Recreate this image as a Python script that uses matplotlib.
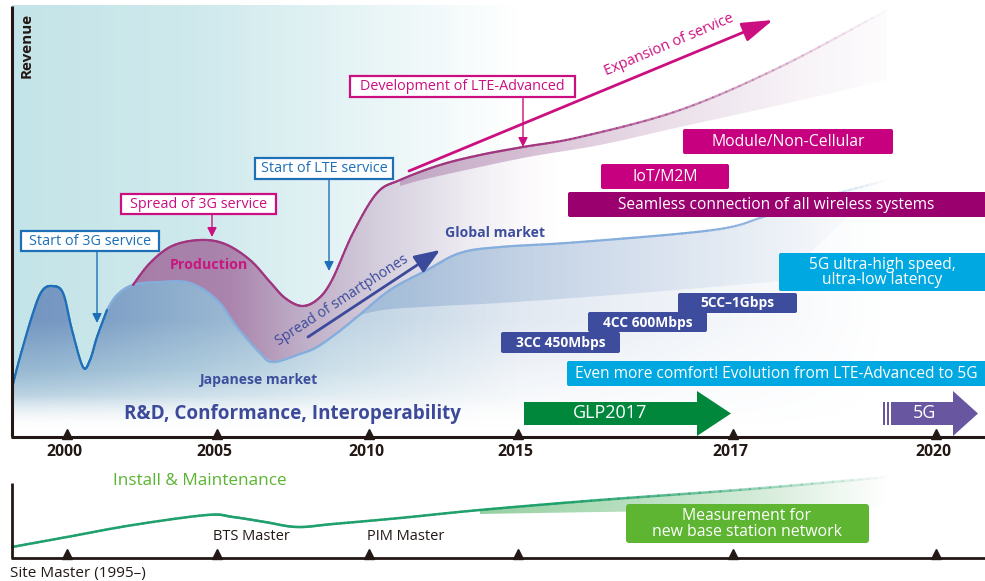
import numpy as np
import matplotlib
matplotlib.use("Agg")
import matplotlib.pyplot as plt
from matplotlib.path import Path
from matplotlib.patches import Rectangle, FancyBboxPatch, FancyArrowPatch, FancyArrow
from matplotlib.collections import LineCollection
from matplotlib.colors import to_rgb

plt.rcParams['font.family'] = ['Open Sans', 'DejaVu Sans']

# ---------------- data (schematic, pixel space) ----------------
year_labels = ["2000", "2005", "2010", "2015", "2017", "2020"]
year_pos = [67, 217, 369, 518, 733, 936]

# Japanese market curve (two humps, then plateau down to the minimum)
jp_x = [12, 20, 33, 42, 52, 63, 72, 83, 90, 97, 107, 117, 133, 160, 190, 217, 237, 260, 273]
jp_y = [388, 357, 313, 291, 286, 293, 330, 367, 360, 337, 310, 295, 285, 282, 283, 300, 327, 353, 362]
# global market line (continues from the Japanese minimum)
gl_x = [273, 300, 317, 337, 357, 390, 427, 460, 500, 580, 713, 763, 813, 887]
gl_y = [362, 354, 347, 333, 317, 290, 270, 253, 247, 242, 230, 217, 200, 180]
# lower edge of the global-market wedge
gw_x = [350, 383, 440, 500, 600, 700, 780]
gw_y = [318, 310, 306, 303, 296, 288, 281]
# production / revenue curve
pr_x = [133, 150, 172, 200, 225, 250, 270, 285, 302, 318, 332, 353, 377, 400, 440, 480, 523, 580, 680, 780, 887]
pr_y = [285, 263, 246, 240, 244, 260, 282, 298, 306, 299, 280, 233, 193, 180, 165, 155, 147, 137, 110, 67, 10]
# lower edge of the thin purple band under the production curve
band_x = [400, 430, 523, 600, 680, 780, 887]
band_y = [186, 178, 158, 145, 127, 105, 80]
# install & maintenance curve
im_x = [12, 67, 133, 207, 233, 265, 297, 333, 400, 480, 600, 750, 887]
im_y = [547, 537, 525, 515, 517, 522, 527, 524, 518, 510, 500, 489, 477]
im_lower_x = [480, 600, 750, 887]
im_lower_y = [514, 512, 510, 508]

# callout boxes: (text, x0, x1, y0, y1, colour, arrow_x, arrow_y_end)
callouts = [
    ("Start of 3G service", 21, 159, 231, 251, "#1d6fb8", 97, 323),
    ("Spread of 3G service", 121, 276, 194, 214, "#cc0f80", 212, 237),
    ("Start of LTE service", 255, 393, 158, 179, "#1d6fb8", 329, 271),
    ("Development of LTE-Advanced", 350, 575, 76, 97, "#cc0f80", 523, 147),
]
# filled label boxes: (text, x0, x1, y0, y1, colour, bold, fontsize)
boxes = [
    ("Module/Non-Cellular", 683, 893, 129, 154, "#c6007e", False, 11.3),
    ("IoT/M2M", 601, 729, 164, 189, "#c6007e", False, 11.3),
    ("Seamless connection of all wireless systems", 568, 990, 192, 217, "#9b006f", False, 11.2),
    ("5G ultra-high speed,\nultra-low latency", 779, 990, 253, 291, "#00a8e1", False, 11.2),
    ("5CC\u20131Gbps", 678, 797, 293, 313, "#3d4c9c", True, 9.9),
    ("4CC 600Mbps", 588, 707, 312, 332, "#3d4c9c", True, 9.9),
    ("3CC 450Mbps", 501, 620, 332, 353, "#3d4c9c", True, 9.9),
    ("Even more comfort! Evolution from LTE-Advanced to 5G", 567, 990, 361, 386, "#00a8e1", False, 11.2),
]
# block arrows: (text, x_start, x_tip, y_centre, colour)
block_arrows = [
    ("GLP2017", 524, 731, 413.5, "#00873c"),
    ("5G", 891, 978, 413.5, "#6856a0"),
]
# ----------------------------------------------------------------------------------------

W, H = 985, 581
fig = plt.figure(figsize=(W / 100, H / 100), dpi=100)
ax = fig.add_axes([0, 0, 1, 1])
ax.set_xlim(0, W)
ax.set_ylim(H, 0)
ax.axis('off')


def cr_vertices(xs, ys):
    P = np.column_stack([xs, ys]).astype(float)
    Pp = np.vstack([P[0], P, P[-1]])
    verts = [P[0]]
    for i in range(len(P) - 1):
        p0, p1, p2, p3 = Pp[i], Pp[i + 1], Pp[i + 2], Pp[i + 3]
        verts += [p1 + (p2 - p0) / 6.0, p2 - (p3 - p1) / 6.0, p2]
    return np.array(verts)


def make_path(segments, close=False):
    verts, codes = [], []
    for k, (xs, ys) in enumerate(segments):
        v = cr_vertices(xs, ys)
        verts.extend(v)
        codes.extend([Path.MOVETO if k == 0 else Path.LINETO] + [Path.CURVE4] * (len(v) - 1))
    if close:
        verts.append(verts[0])
        codes.append(Path.CLOSEPOLY)
    return Path(np.array(verts), codes)


def rev(xs, ys):
    return list(xs)[::-1], list(ys)[::-1]


def grad_fill(path, color, alpha_fn, extent, z):
    x0, x1, y0, y1 = extent
    nx, ny = int(x1 - x0), int(y1 - y0)
    X, Y = np.meshgrid(np.linspace(x0, x1, nx), np.linspace(y0, y1, ny))
    img = np.zeros((ny, nx, 4))
    img[..., :3] = to_rgb(color)
    img[..., 3] = np.clip(alpha_fn(X, Y), 0, 1)
    im = ax.imshow(img, extent=(x0, x1, y1, y0), origin='upper', aspect='auto',
                   zorder=z, interpolation='bilinear')
    if path is not None:
        im.set_clip_path(path, transform=ax.transData)
    return im


def faded_line(path, color, lw, xa, xb, z, a0=1.0):
    pts = []
    for bez, code in path.iter_bezier():
        pts.append(bez(np.linspace(0, 1, 16)))
    pts = np.vstack(pts)
    segs = np.stack([pts[:-1], pts[1:]], axis=1)
    xm = segs[:, :, 0].mean(axis=1)
    a = np.interp(xm, [xa, xb], [a0, 0.0])
    rgb = to_rgb(color)
    lc = LineCollection(segs, colors=[(*rgb, ai) for ai in a], linewidths=lw,
                        zorder=z, capstyle='round')
    ax.add_collection(lc)


def vfade(Y, ya, yb):
    return np.interp(Y, [ya, yb], [1.0, 0.0])


# background teal gradient
grad_fill(None, "#c3e4e8",
          lambda X, Y: np.interp(X, [12, 200, 360, 520], [1.0, 0.8, 0.4, 0.0]) * vfade(Y, 370, 428),
          (12, 985, 5, 437), 1)

# Japanese market fill
jp_path = make_path([(jp_x, jp_y), (gl_x, gl_y), ([887, 887], [180, 437]), ([887, 12], [437, 437])], close=True)
grad_fill(jp_path, "#7294c0",
          lambda X, Y: np.interp(X, [12, 60, 170, 250, 330, 500, 700, 887], [1, 0.95, 0.7, 0.55, 0.35, 0.22, 0.1, 0.0])
          * vfade(Y, 320, 430),
          (12, 887, 170, 437), 2)
# global market wedge
gw_path = make_path([(gl_x[4:], gl_y[4:]), rev(gw_x, gw_y)], close=True)
grad_fill(gw_path, "#7b9cc8",
          lambda X, Y: np.interp(X, [340, 420, 600, 887], [0.45, 0.4, 0.22, 0.0]),
          (330, 887, 170, 340), 2.5)

# production (purple) fill
pr_main = make_path([(pr_x[:18], pr_y[:18]), ([580, 580], [137, 242]), rev(gl_x[:10], gl_y[:10]),
                     rev(jp_x[12:], jp_y[12:])], close=True)
grad_fill(pr_main, "#a06a9c",
          lambda X, Y: np.interp(X, [133, 230, 300, 380, 470, 560], [0.85, 0.8, 0.5, 0.28, 0.1, 0.0]),
          (130, 585, 130, 370), 3)
# thin band along the upper curve
band_path = make_path([(pr_x[13:], pr_y[13:]), rev(band_x, band_y)], close=True)
grad_fill(band_path, "#a06a9c",
          lambda X, Y: np.interp(X, [400, 520, 680, 800, 887], [0.45, 0.42, 0.2, 0.08, 0.02]),
          (395, 890, 5, 190), 3)

# curve strokes
jp_line_a = make_path([(jp_x[:11], jp_y[:11])])
jp_line_b = make_path([(jp_x[10:] + gl_x[1:], jp_y[10:] + gl_y[1:])])
faded_line(jp_line_b, "#86aedc", 1.6, 700, 890, 4)
faded_line(jp_line_a, "#1f70b8", 1.6, 2000, 3000, 4.1)
pr_line = make_path([(pr_x, pr_y)])
faded_line(pr_line, "#a0367f", 1.6, 520, 890, 4, a0=1.0)

# bottom white fade (over curves)
grad_fill(None, "#ffffff", lambda X, Y: np.interp(Y, [395, 432], [0.0, 1.0]), (12, 985, 380, 436), 4.5)

# axes lines + ticks (top panel)
axis_col = "#231815"
ax.plot([11.5, 11.5], [6, 437], color=axis_col, lw=2.2, zorder=6, solid_capstyle='butt')
ax.plot([11, 985], [437, 437], color=axis_col, lw=2.2, zorder=6, solid_capstyle='butt')
ax.plot(year_pos, [433.5] * len(year_pos), ls='none', marker='^', ms=6.5, color=axis_col, zorder=6)
for lab, xp in zip(year_labels, year_pos):
    ax.text(xp - 3, 452, lab, ha='center', va='center', fontsize=11.3, fontweight='bold', color=axis_col, zorder=6)

ax.text(27, 45, "Revenue", rotation=90, ha='center', va='center', fontsize=11, fontweight='bold',
        color=axis_col, zorder=6)

# callouts
for text, x0, x1, y0, y1, col, axp, ay in callouts:
    ax.add_patch(Rectangle((x0, y0), x1 - x0, y1 - y0, facecolor='white', edgecolor=col, lw=1.6, zorder=7))
    ax.text((x0 + x1) / 2, (y0 + y1) / 2 + 0.5, text, ha='center', va='center', fontsize=10.4, color=col, zorder=8)
    ax.add_patch(FancyArrowPatch((axp, y1), (axp, ay), arrowstyle='-|>,head_length=0.7,head_width=0.35',
                                 mutation_scale=8, color=col, lw=1.0, shrinkA=0, shrinkB=0, zorder=7))

# big slanted arrows
ax.add_patch(FancyArrowPatch((409, 171), (773, 20), arrowstyle='-|>,head_length=1.9,head_width=0.6',
                             mutation_scale=10, color="#cc0f80", lw=2.0, shrinkA=0, shrinkB=0, zorder=7))
ax.text(669, 45, "Expansion of service", rotation=23, ha='center', va='center', fontsize=10.5,
        color="#cc0f80", zorder=7, rotation_mode='anchor')
ax.add_patch(FancyArrowPatch((308, 337), (440, 250), arrowstyle='-|>,head_length=1.55,head_width=0.6',
                             mutation_scale=10, color="#3b4a9b", lw=2.0, shrinkA=0, shrinkB=0, zorder=7))
ax.text(342, 300, "Spread of smartphones", rotation=33, ha='center', va='center', fontsize=10.2,
        color="#3b4a9b", zorder=7, rotation_mode='anchor')

# region labels
ax.text(209, 265, "Production", ha='center', va='center', fontsize=10.3, fontweight='bold', color="#c8177f", zorder=7)
ax.text(258, 380, "Japanese market", ha='center', va='center', fontsize=10.1, fontweight='bold', color="#3d4f9c", zorder=7)
ax.text(495, 233, "Global market", ha='center', va='center', fontsize=10.1, fontweight='bold', color="#3d4f9c", zorder=7)
ax.text(293, 414, "R&D, Conformance, Interoperability", ha='center', va='center', fontsize=13.6,
        fontweight='bold', color="#3d4a9a", zorder=7)

# filled boxes
for text, x0, x1, y0, y1, col, bold, fs in boxes:
    ax.add_patch(FancyBboxPatch((x0, y0), x1 - x0, y1 - y0, boxstyle="round,pad=0,rounding_size=2",
                                facecolor=col, edgecolor='none', zorder=8))
    cx = (x0 + min(x1, 985)) / 2
    ax.text(cx, (y0 + y1) / 2 + 0.5, text, ha='center', va='center', fontsize=fs, color='white',
            fontweight='bold' if bold else 'normal', zorder=9, linespacing=0.95)

# block arrows
for text, xs, xt, yc, col in block_arrows:
    hl = 34 if text != "5G" else 25
    ax.add_patch(FancyArrow(xs, yc, xt - xs, 0, width=23, head_width=45, head_length=hl,
                            length_includes_head=True, color=col, lw=0, zorder=8))
    bx = (xs + xt - hl) / 2 + (0 if text != "5G" else 3)
    ax.text(bx, yc, text, ha='center', va='center', fontsize=13, color='white', zorder=9)
# stripes before the 5G arrow
for sx0, sx1 in [(883, 885), (886.5, 889)]:
    ax.add_patch(Rectangle((sx0, 402), sx1 - sx0, 23, facecolor="#6856a0", edgecolor='none', zorder=8))

# ---------------- lower panel ----------------
ax.plot([11.5, 11.5], [483, 558], color=axis_col, lw=2.0, zorder=6, solid_capstyle='butt')
ax.plot([11, 985], [557.5, 557.5], color=axis_col, lw=2.0, zorder=6, solid_capstyle='butt')
ax.plot(year_pos, [554] * len(year_pos), ls='none', marker='^', ms=6.5, color=axis_col, zorder=6)

im_wedge = make_path([(im_x[9:], im_y[9:]), rev(im_lower_x, im_lower_y)], close=True)
grad_fill(im_wedge, "#7cc48a", lambda X, Y: np.interp(X, [480, 600, 750, 887], [0.8, 0.6, 0.35, 0.0]),
          (478, 890, 470, 516), 3)
im_line = make_path([(im_x, im_y)])
faded_line(im_line, "#1fa06c", 1.8, 560, 890, 4)

ax.text(200, 481, "Install & Maintenance", ha='center', va='center', fontsize=12.3, color="#5ab431", zorder=7)
ax.text(251, 536, "BTS Master", ha='center', va='center', fontsize=10.5, color=axis_col, zorder=7)
ax.text(406, 536, "PIM Master", ha='center', va='center', fontsize=10.5, color=axis_col, zorder=7)
ax.text(10, 573, "Site Master (1995\u2013)", ha='left', va='center', fontsize=11, color=axis_col, zorder=7)
ax.add_patch(FancyBboxPatch((626, 504), 243, 39, boxstyle="round,pad=0,rounding_size=3",
                            facecolor="#5db531", edgecolor='none', zorder=8))
ax.text(747, 524, "Measurement for\nnew base station network", ha='center', va='center', fontsize=11.4,
        color='white', zorder=9, linespacing=0.95)

ax.set_xlim(0, W)
ax.set_ylim(H, 0)
fig.savefig("out.png", dpi=100)
